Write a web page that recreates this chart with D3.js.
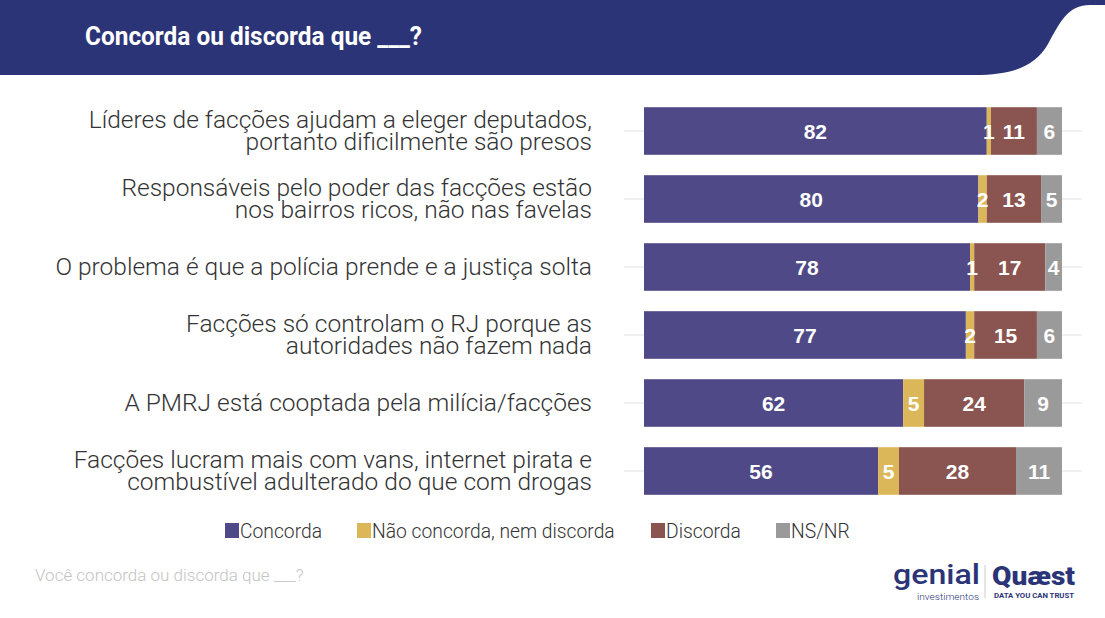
<!DOCTYPE html>
<html><head><meta charset="utf-8">
<script src="https://cdn.jsdelivr.net/npm/d3@7"></script>
<style>body{margin:0;background:#fff}svg{display:block}</style>
</head><body>
<svg id="c" width="1105" height="618"></svg>
<script>
const categories = [
  ["Líderes de facções ajudam a eleger deputados,", "portanto dificilmente são presos"],
  ["Responsáveis pelo poder das facções estão", "nos bairros ricos, não nas favelas"],
  ["O problema é que a polícia prende e a justiça solta"],
  ["Facções só controlam o RJ porque as", "autoridades não fazem nada"],
  ["A PMRJ está cooptada pela milícia/facções"],
  ["Facções lucram mais com vans, internet pirata e", "combustível adulterado do que com drogas"]
];
const seriesNames = ["Concorda", "Não concorda, nem discorda", "Discorda", "NS/NR"];
const concorda = [82, 80, 78, 77, 62, 56];
const neutro   = [1, 2, 1, 2, 5, 5];
const discorda = [11, 13, 17, 15, 24, 28];
const nsnr     = [6, 5, 4, 6, 9, 11];
const colors = ["#4f4a87", "#dcb75a", "#8a5550", "#9a9a9a"];

const svg = d3.select("#c");

// header band
svg.append("path")
  .attr("d", "M0,0 H1105 V5 H1090 C1068,5 1060,22 1048,44 C1034,68 1010,75 975,75 H0 Z")
  .attr("fill", "#2b3476");
svg.append("text").attr("x", 85).attr("y", 45)
  .attr("font-family", "Roboto").attr("font-weight", 700).attr("font-size", 25)
  .attr("fill", "#fff").attr("textLength", 337).attr("lengthAdjust", "spacingAndGlyphs")
  .text("Concorda ou discorda que ___?");

const data = categories.map((c, i) => ({c, i, vals: [concorda[i], neutro[i], discorda[i], nsnr[i]]}));

const x = d3.scaleLinear().domain([0, 100]).range([644, 1062]);
const y = d3.scaleBand().domain(d3.range(categories.length)).range([97, 505]).paddingInner(0.3).paddingOuter(0.15);

// faint grid lines at row centers
svg.append("g").selectAll("line").data(data).join("line")
  .attr("x1", 624).attr("x2", 1082)
  .attr("y1", d => y(d.i) + y.bandwidth() / 2).attr("y2", d => y(d.i) + y.bandwidth() / 2)
  .attr("stroke", "#ebebeb").attr("stroke-width", 1.5);

const rows = svg.append("g").selectAll("g").data(data).join("g");
rows.each(function(d) {
  const g = d3.select(this);
  let cum = 0;
  d.vals.forEach((v, k) => {
    const x0 = x(cum), x1 = x(cum + v);
    g.append("rect").attr("x", x0).attr("y", y(d.i)).attr("width", x1 - x0).attr("height", y.bandwidth())
      .attr("fill", colors[k]);
    cum += v;
  });
  cum = 0;
  d.vals.forEach((v, k) => {
    const x0 = x(cum), x1 = x(cum + v);
    g.append("text").attr("x", (x0 + x1) / 2).attr("y", y(d.i) + y.bandwidth() / 2 + 7.5)
      .attr("text-anchor", "middle").attr("font-family", "Liberation Sans, Arial")
      .attr("font-weight", 700).attr("font-size", 21).attr("fill", "#fff").text(v);
    cum += v;
  });
  const cy = y(d.i) + y.bandwidth() / 2;
  const n = d.c.length;
  const t = g.append("text").attr("text-anchor", "end").attr("font-family", "Roboto").attr("font-weight", 300)
    .attr("font-size", 24.5).attr("fill", "#333");
  d.c.forEach((line, j) => {
    t.append("tspan").attr("x", 592).attr("y", cy + 8 + (j - (n - 1) / 2) * 22.5).text(line);
  });
});

// legend
const legX = [225, 357, 651, 776];
const leg = svg.append("g").selectAll("g").data(seriesNames).join("g")
  .attr("transform", (d, i) => `translate(${legX[i]},531)`);
leg.append("rect").attr("x", 0).attr("y", -8).attr("width", 14).attr("height", 15).attr("fill", (d, i) => colors[i]);
leg.append("text").attr("x", 15).attr("y", 7).attr("font-family", "Roboto").attr("font-weight", 300)
  .attr("font-size", 19.3).attr("fill", "#333").text(d => d);

// footer
svg.append("text").attr("x", 35).attr("y", 581).attr("font-family", "Roboto").attr("font-weight", 300)
  .attr("font-size", 17).attr("fill", "#c4c4c4").text("Você concorda ou discorda que ___?");

// logos (text approximations)
svg.append("text").attr("x", 893).attr("y", 584).attr("font-family", "Roboto").attr("font-weight", 500)
  .attr("font-size", 28).attr("fill", "#2b3476").attr("textLength", 87).attr("lengthAdjust", "spacingAndGlyphs").text("genial");
svg.append("text").attr("x", 917).attr("y", 600).attr("font-family", "Roboto").attr("font-weight", 300)
  .attr("font-size", 8.5).attr("fill", "#2b3476").attr("textLength", 62).attr("lengthAdjust", "spacingAndGlyphs").text("investimentos");
svg.append("line").attr("x1", 985).attr("x2", 985).attr("y1", 565).attr("y2", 598).attr("stroke", "#ccc");
svg.append("text").attr("x", 992).attr("y", 585).attr("font-family", "Roboto").attr("font-weight", 900)
  .attr("font-size", 25).attr("fill", "#2b3476").attr("textLength", 83).attr("lengthAdjust", "spacingAndGlyphs").text("Quæst");
svg.append("text").attr("x", 994).attr("y", 598).attr("font-family", "Roboto").attr("font-weight", 700)
  .attr("font-size", 6.5).attr("fill", "#2b3476").attr("textLength", 80).attr("lengthAdjust", "spacingAndGlyphs").text("DATA YOU CAN TRUST");
</script>
</body></html>
